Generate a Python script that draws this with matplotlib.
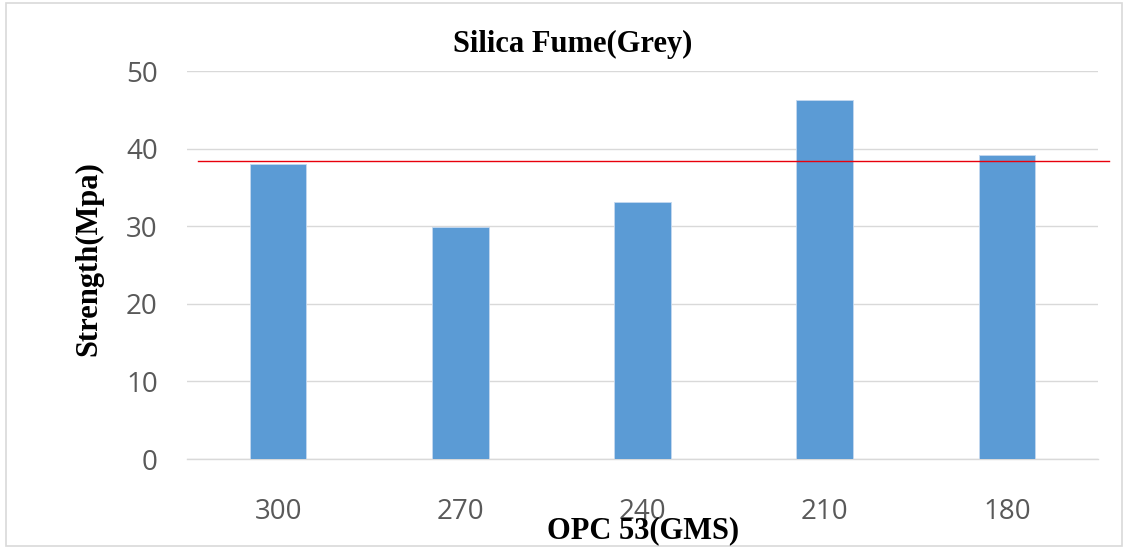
import matplotlib.pyplot as plt
from matplotlib.patches import Rectangle

# chart values
categories = ['300', '270', '240', '210', '180']
strength = [38.0, 29.9, 33.1, 46.3, 39.2]
reference_line = 38.4
y_ticks = [0, 10, 20, 30, 40, 50]

fig = plt.figure(figsize=(11.3, 5.5), dpi=100)
ax = fig.add_axes([187 / 1130, 1 - 459 / 550, (1098 - 187) / 1130, (459 - 71) / 550])

x = list(range(len(categories)))
ax.bar(x, strength, width=0.31, color='#5b9bd5', edgecolor='#c5d9f0', linewidth=0.6, zorder=3)

# red reference line, runs a little past the plot area on the right
ax.plot([-0.44, 4.56], [reference_line, reference_line], color='#e8000b',
        linewidth=1.0, zorder=4, clip_on=False)

ax.set_xlim(-0.5, len(categories) - 0.5)
ax.set_ylim(0, 50)
ax.set_yticks(y_ticks)
ax.set_xticks(x)
ax.set_xticklabels(categories)
ax.yaxis.grid(True, color='#d9d9d9', linewidth=1.0, zorder=0)
ax.set_axisbelow(True)
for s in ['top', 'right', 'left']:
    ax.spines[s].set_visible(False)
ax.spines['bottom'].set_color('#d9d9d9')
ax.spines['bottom'].set_linewidth(1.0)
ax.tick_params(axis='both', length=0, labelsize=20, labelcolor='#595959')
ax.tick_params(axis='x', pad=28)
ax.tick_params(axis='y', pad=21)
for lbl in ax.get_xticklabels() + ax.get_yticklabels():
    lbl.set_fontfamily(['Open Sans', 'DejaVu Sans'])

serif = ['Liberation Serif', 'DejaVu Serif']
fig.text(573 / 1130, 1 - 44 / 550, 'Silica Fume(Grey)', ha='center', va='center',
         fontsize=22, fontweight='bold', family=serif)
fig.text(643 / 1130, 1 - 531 / 550, 'OPC 53(GMS)', ha='center', va='center',
         fontsize=22, fontweight='bold', family=serif)
fig.text(89 / 1130, 1 - 259 / 550, 'Strength(Mpa)', ha='center', va='center',
         rotation=90, fontsize=22, fontweight='bold', family=serif)

# chart frame
fig.patches.append(Rectangle((6 / 1130, 1 - 546 / 550), 1116 / 1130, 543 / 550,
                             transform=fig.transFigure, fill=False,
                             edgecolor='#d9d9d9', linewidth=1.2))

fig.savefig('out.png', dpi=100)
